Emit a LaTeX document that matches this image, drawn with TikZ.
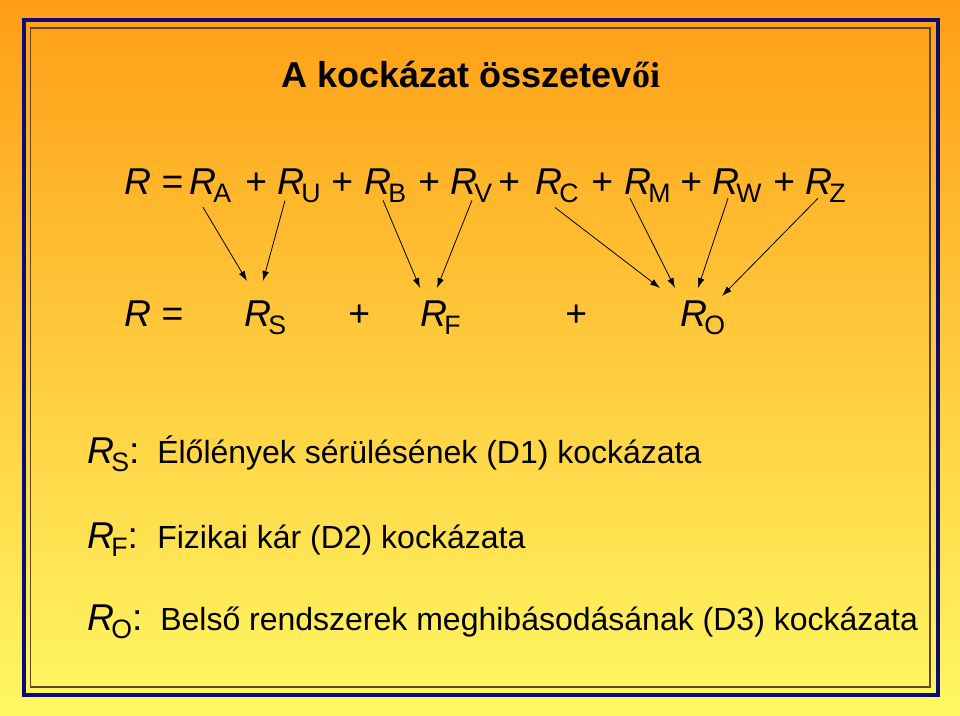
\documentclass[tikz,border=0pt]{standalone}
\usepackage{fontspec}
\setmainfont{Liberation Sans}
\newfontfamily\titleserif{Liberation Serif}
\usetikzlibrary{calc,arrows.meta}

\definecolor{slidetop}{RGB}{255,158,22}
\definecolor{slidebottom}{RGB}{255,248,100}
\definecolor{framenavy}{RGB}{12,12,120}
\definecolor{framebrown}{RGB}{95,72,30}

\newcommand{\Rsub}[1]{{\fontsize{28}{30}\selectfont\itshape R}\kern-2.2pt\raisebox{-6pt}{\fontsize{20}{22}\selectfont #1}}

\tikzset{
  term/.style={anchor=base west,inner sep=0pt,font=\fontsize{28}{30}\selectfont},
  desc/.style={anchor=base west,inner sep=0pt,font=\fontsize{24}{28}\selectfont},
  arr/.style={-{Latex[length=7.5pt,width=5pt]},line width=0.6pt}
}

\begin{document}
\begin{tikzpicture}[x=0.75pt,y=-0.75pt]
  % Slide background
  \useasboundingbox (0,0) rectangle (960,716);
  \shade[top color=slidetop,bottom color=slidebottom] (0,0) rectangle (960,716);
  %
  % Frame
  \draw[framenavy,line width=3pt] (23.5,20.5) rectangle (937.5,694.5);
  \draw[framebrown,line width=0.8pt] (30.5,28) rectangle (930,687);
  %
  % Title
  \node[font=\fontsize{27}{30}\selectfont\bfseries,anchor=base,inner sep=0pt]
    (title) at (471,88) {A kockázat összetev{\titleserif ői}};
  %
  % First line
  \node[term] (eqA) at (124,195) {{\itshape R} =};
  \foreach \s/\x in {A/189,U/277,B/364,V/450,C/535,M/624,W/712,Z/805}
    \node[term] (r\s) at (\x,195) {\Rsub{\s}};
  \foreach \x in {245,331,418,498,591,680,773}
    \node[term] (p\x) at (\x,195) {+};
  %
  % Second line
  \node[term] (eqB) at (124,327) {{\itshape R} =};
  \node[term] (rS) at (244,327) {\Rsub{S}};
  \node[term] (q1) at (348,327) {+};
  \node[term] (rF) at (420,327) {\Rsub{F}};
  \node[term] (q2) at (565,327) {+};
  \node[term] (rO) at (680,327) {\Rsub{O}};
  %
  % Arrows
  \draw[arr] ($(rA.south west)+(14,4)$) -- ($(rS.north west)+(3,-20)$);
  \draw[arr] ($(rU.south west)+(8,-3)$) -- ($(rS.north west)+(19,-20)$);
  \draw[arr] ($(rB.south west)+(19,-3)$) -- ($(rF.north west)+(0,-13)$);
  \draw[arr] ($(rV.south west)+(22,-3)$) -- ($(rF.north west)+(17,-13)$);
  \draw[arr] ($(rC.south west)+(20,4)$) -- ($(rO.north west)+(-20,-13)$);
  \draw[arr] ($(rM.south west)+(6,-5)$) -- ($(rO.north west)+(-5,-13)$);
  \draw[arr] ($(rW.south west)+(16,-5)$) -- ($(rO.north west)+(18,-13)$);
  \draw[arr] ($(rZ.south west)+(13,-5)$) -- ($(rO.north west)+(42,-5)$);
  %
  % Legend
  \node[term] (kS) at (87,463) {\Rsub{S}:};
  \node[desc] (dS) at (157,463) {Élőlények sérülésének (D1) kockázata};
  \node[term] (kF) at (87,548) {\Rsub{F}:};
  \node[desc] (dF) at (157,548) {Fizikai kár (D2) kockázata};
  \node[term] (kO) at (87,630) {\Rsub{O}:};
  \node[desc] (dO) at (160,630) {Belső rendszerek meghibásodásának (D3) kockázata};
  %
\end{tikzpicture}
\end{document}
